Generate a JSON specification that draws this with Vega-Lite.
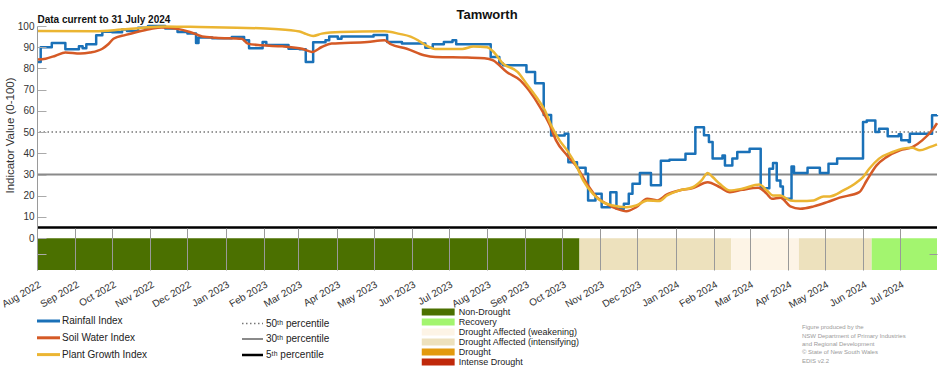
{
  "$schema": "https://vega.github.io/schema/vega-lite/v6.json",
  "width": 900,
  "height": 244,
  "autosize": {"type": "none"},
  "padding": {"left": 37, "top": 26, "right": 15, "bottom": 100},
  "background": "white",
  "title": {"text": "Tamworth", "anchor": "middle", "frame": "group", "font": "Liberation Sans", "fontSize": 13, "fontWeight": "bold", "color": "#111111", "offset": -8},
  "config": {
    "view": {"stroke": null},
    "font": "Liberation Sans",
    "axis": {"grid": false, "labelFont": "Liberation Sans", "labelColor": "#333333", "labelFontSize": 10, "titleFont": "Liberation Sans", "titleColor": "#333333", "titleFontWeight": "normal"},
    "legend": {"labelFont": "Liberation Sans", "labelColor": "#222222", "padding": 0, "offset": 0, "titlePadding": 0, "labelLimit": 400}
  },
  "datasets": {
    "band": [
      {"start": "2022-08-01", "end": "2023-10-15", "category": "Non-Drought"},
      {"start": "2023-10-15", "end": "2024-02-15", "category": "Drought Affected (intensifying)"},
      {"start": "2024-02-15", "end": "2024-04-10", "category": "Drought Affected (weakening)"},
      {"start": "2024-04-10", "end": "2024-06-08", "category": "Drought Affected (intensifying)"},
      {"start": "2024-06-08", "end": "2024-07-31", "category": "Recovery"}
    ],
    "pct": [
      {"pct": "50ᵗʰ percentile", "value": 50},
      {"pct": "30ᵗʰ percentile", "value": 30},
      {"pct": "5ᵗʰ percentile", "value": 5}
    ],
    "credits": [
      {"credit": "Figure produced by the"},
      {"credit": "NSW Department of Primary Industries"},
      {"credit": "and Regional Development"},
      {"credit": "© State of New South Wales"},
      {"credit": "EDIS v2.2"}
    ],
    "idx": [
      {"date": "2022-08-01", "series": "Rainfall Index", "value": 83},
      {"date": "2022-08-04", "series": "Rainfall Index", "value": 90},
      {"date": "2022-08-13", "series": "Rainfall Index", "value": 92},
      {"date": "2022-08-24", "series": "Rainfall Index", "value": 89},
      {"date": "2022-09-04", "series": "Rainfall Index", "value": 90.5},
      {"date": "2022-09-07", "series": "Rainfall Index", "value": 89.5},
      {"date": "2022-09-10", "series": "Rainfall Index", "value": 91.4},
      {"date": "2022-09-18", "series": "Rainfall Index", "value": 95.6},
      {"date": "2022-09-23", "series": "Rainfall Index", "value": 97.3},
      {"date": "2022-10-01", "series": "Rainfall Index", "value": 97},
      {"date": "2022-10-09", "series": "Rainfall Index", "value": 98.3},
      {"date": "2022-10-13", "series": "Rainfall Index", "value": 97.7},
      {"date": "2022-10-22", "series": "Rainfall Index", "value": 99.2},
      {"date": "2022-10-30", "series": "Rainfall Index", "value": 100},
      {"date": "2022-11-13", "series": "Rainfall Index", "value": 98.8},
      {"date": "2022-11-23", "series": "Rainfall Index", "value": 97.2},
      {"date": "2022-12-01", "series": "Rainfall Index", "value": 96.5},
      {"date": "2022-12-08", "series": "Rainfall Index", "value": 92},
      {"date": "2022-12-10", "series": "Rainfall Index", "value": 94.6},
      {"date": "2022-12-21", "series": "Rainfall Index", "value": 94.2},
      {"date": "2023-01-06", "series": "Rainfall Index", "value": 94.8},
      {"date": "2023-01-16", "series": "Rainfall Index", "value": 93.3},
      {"date": "2023-01-20", "series": "Rainfall Index", "value": 89.5},
      {"date": "2023-01-31", "series": "Rainfall Index", "value": 92.5},
      {"date": "2023-02-03", "series": "Rainfall Index", "value": 91},
      {"date": "2023-02-21", "series": "Rainfall Index", "value": 89.3},
      {"date": "2023-03-02", "series": "Rainfall Index", "value": 89},
      {"date": "2023-03-07", "series": "Rainfall Index", "value": 83},
      {"date": "2023-03-13", "series": "Rainfall Index", "value": 92.3},
      {"date": "2023-03-23", "series": "Rainfall Index", "value": 93.3},
      {"date": "2023-03-26", "series": "Rainfall Index", "value": 95},
      {"date": "2023-04-02", "series": "Rainfall Index", "value": 94},
      {"date": "2023-04-05", "series": "Rainfall Index", "value": 95.1},
      {"date": "2023-05-01", "series": "Rainfall Index", "value": 95.8},
      {"date": "2023-05-12", "series": "Rainfall Index", "value": 92.5},
      {"date": "2023-05-24", "series": "Rainfall Index", "value": 91.7},
      {"date": "2023-06-12", "series": "Rainfall Index", "value": 89.8},
      {"date": "2023-06-18", "series": "Rainfall Index", "value": 91.4},
      {"date": "2023-06-27", "series": "Rainfall Index", "value": 92.5},
      {"date": "2023-07-04", "series": "Rainfall Index", "value": 93.3},
      {"date": "2023-07-07", "series": "Rainfall Index", "value": 91.4},
      {"date": "2023-08-04", "series": "Rainfall Index", "value": 85.4},
      {"date": "2023-08-11", "series": "Rainfall Index", "value": 82.3},
      {"date": "2023-08-14", "series": "Rainfall Index", "value": 81.5},
      {"date": "2023-09-02", "series": "Rainfall Index", "value": 78.3},
      {"date": "2023-09-09", "series": "Rainfall Index", "value": 73},
      {"date": "2023-09-16", "series": "Rainfall Index", "value": 58},
      {"date": "2023-09-22", "series": "Rainfall Index", "value": 48.4},
      {"date": "2023-10-03", "series": "Rainfall Index", "value": 49.2},
      {"date": "2023-10-06", "series": "Rainfall Index", "value": 35.8},
      {"date": "2023-10-13", "series": "Rainfall Index", "value": 33.2},
      {"date": "2023-10-20", "series": "Rainfall Index", "value": 30.4},
      {"date": "2023-10-22", "series": "Rainfall Index", "value": 17.8},
      {"date": "2023-10-28", "series": "Rainfall Index", "value": 20.9},
      {"date": "2023-11-02", "series": "Rainfall Index", "value": 14.6},
      {"date": "2023-11-09", "series": "Rainfall Index", "value": 21.7},
      {"date": "2023-11-14", "series": "Rainfall Index", "value": 13.9},
      {"date": "2023-11-20", "series": "Rainfall Index", "value": 16.2},
      {"date": "2023-11-24", "series": "Rainfall Index", "value": 20.9},
      {"date": "2023-11-27", "series": "Rainfall Index", "value": 25.7},
      {"date": "2023-12-03", "series": "Rainfall Index", "value": 30.7},
      {"date": "2023-12-12", "series": "Rainfall Index", "value": 24.9},
      {"date": "2023-12-20", "series": "Rainfall Index", "value": 36.5},
      {"date": "2023-12-27", "series": "Rainfall Index", "value": 37},
      {"date": "2024-01-09", "series": "Rainfall Index", "value": 39.8},
      {"date": "2024-01-17", "series": "Rainfall Index", "value": 52.3},
      {"date": "2024-01-24", "series": "Rainfall Index", "value": 48.5},
      {"date": "2024-01-28", "series": "Rainfall Index", "value": 45.3},
      {"date": "2024-01-31", "series": "Rainfall Index", "value": 37.5},
      {"date": "2024-02-08", "series": "Rainfall Index", "value": 39},
      {"date": "2024-02-10", "series": "Rainfall Index", "value": 34.3},
      {"date": "2024-02-16", "series": "Rainfall Index", "value": 37.5},
      {"date": "2024-02-20", "series": "Rainfall Index", "value": 40.6},
      {"date": "2024-03-01", "series": "Rainfall Index", "value": 42.2},
      {"date": "2024-03-10", "series": "Rainfall Index", "value": 23.5},
      {"date": "2024-03-17", "series": "Rainfall Index", "value": 32.7},
      {"date": "2024-03-20", "series": "Rainfall Index", "value": 35.4},
      {"date": "2024-03-23", "series": "Rainfall Index", "value": 27.2},
      {"date": "2024-03-26", "series": "Rainfall Index", "value": 24.4},
      {"date": "2024-03-28", "series": "Rainfall Index", "value": 18.6},
      {"date": "2024-04-04", "series": "Rainfall Index", "value": 33.8},
      {"date": "2024-04-06", "series": "Rainfall Index", "value": 30.7},
      {"date": "2024-04-17", "series": "Rainfall Index", "value": 33.2},
      {"date": "2024-04-27", "series": "Rainfall Index", "value": 30.7},
      {"date": "2024-05-04", "series": "Rainfall Index", "value": 35.1},
      {"date": "2024-05-11", "series": "Rainfall Index", "value": 37.5},
      {"date": "2024-06-01", "series": "Rainfall Index", "value": 54.7},
      {"date": "2024-06-04", "series": "Rainfall Index", "value": 55.5},
      {"date": "2024-06-11", "series": "Rainfall Index", "value": 50},
      {"date": "2024-06-14", "series": "Rainfall Index", "value": 51.6},
      {"date": "2024-06-21", "series": "Rainfall Index", "value": 48},
      {"date": "2024-06-30", "series": "Rainfall Index", "value": 49},
      {"date": "2024-07-02", "series": "Rainfall Index", "value": 46.1},
      {"date": "2024-07-08", "series": "Rainfall Index", "value": 45.3},
      {"date": "2024-07-09", "series": "Rainfall Index", "value": 49.2},
      {"date": "2024-07-27", "series": "Rainfall Index", "value": 57.9},
      {"date": "2024-07-31", "series": "Rainfall Index", "value": 58},
      {"date": "2022-08-01", "series": "Soil Water Index", "value": 84.2},
      {"date": "2022-08-08", "series": "Soil Water Index", "value": 84.6},
      {"date": "2022-08-16", "series": "Soil Water Index", "value": 86},
      {"date": "2022-08-24", "series": "Soil Water Index", "value": 87.5},
      {"date": "2022-09-05", "series": "Soil Water Index", "value": 87},
      {"date": "2022-09-13", "series": "Soil Water Index", "value": 87.5},
      {"date": "2022-09-23", "series": "Soil Water Index", "value": 89.3},
      {"date": "2022-09-28", "series": "Soil Water Index", "value": 91.5},
      {"date": "2022-10-02", "series": "Soil Water Index", "value": 94},
      {"date": "2022-10-12", "series": "Soil Water Index", "value": 95.8},
      {"date": "2022-10-21", "series": "Soil Water Index", "value": 97.2},
      {"date": "2022-11-01", "series": "Soil Water Index", "value": 98.6},
      {"date": "2022-11-10", "series": "Soil Water Index", "value": 99.3},
      {"date": "2022-11-21", "series": "Soil Water Index", "value": 98.8},
      {"date": "2022-12-03", "series": "Soil Water Index", "value": 97.2},
      {"date": "2022-12-13", "series": "Soil Water Index", "value": 95.1},
      {"date": "2022-12-24", "series": "Soil Water Index", "value": 94.5},
      {"date": "2023-01-14", "series": "Soil Water Index", "value": 94},
      {"date": "2023-01-19", "series": "Soil Water Index", "value": 91.7},
      {"date": "2023-01-30", "series": "Soil Water Index", "value": 90.9},
      {"date": "2023-02-16", "series": "Soil Water Index", "value": 90.4},
      {"date": "2023-03-04", "series": "Soil Water Index", "value": 89.3},
      {"date": "2023-03-12", "series": "Soil Water Index", "value": 87.8},
      {"date": "2023-03-20", "series": "Soil Water Index", "value": 90.1},
      {"date": "2023-03-28", "series": "Soil Water Index", "value": 91.7},
      {"date": "2023-04-26", "series": "Soil Water Index", "value": 92.5},
      {"date": "2023-05-10", "series": "Soil Water Index", "value": 93.3},
      {"date": "2023-05-15", "series": "Soil Water Index", "value": 91.4},
      {"date": "2023-05-28", "series": "Soil Water Index", "value": 89.3},
      {"date": "2023-06-11", "series": "Soil Water Index", "value": 86.2},
      {"date": "2023-06-20", "series": "Soil Water Index", "value": 85.4},
      {"date": "2023-07-16", "series": "Soil Water Index", "value": 85.1},
      {"date": "2023-07-30", "series": "Soil Water Index", "value": 84.8},
      {"date": "2023-08-06", "series": "Soil Water Index", "value": 83.8},
      {"date": "2023-08-17", "series": "Soil Water Index", "value": 78.3},
      {"date": "2023-08-28", "series": "Soil Water Index", "value": 74.4},
      {"date": "2023-09-04", "series": "Soil Water Index", "value": 69.7},
      {"date": "2023-09-13", "series": "Soil Water Index", "value": 61.8},
      {"date": "2023-09-21", "series": "Soil Water Index", "value": 53.2},
      {"date": "2023-09-26", "series": "Soil Water Index", "value": 46.1},
      {"date": "2023-10-05", "series": "Soil Water Index", "value": 39},
      {"date": "2023-10-13", "series": "Soil Water Index", "value": 33.5},
      {"date": "2023-10-21", "series": "Soil Water Index", "value": 25.7},
      {"date": "2023-10-29", "series": "Soil Water Index", "value": 19.3},
      {"date": "2023-11-06", "series": "Soil Water Index", "value": 16.2},
      {"date": "2023-11-14", "series": "Soil Water Index", "value": 13.9},
      {"date": "2023-11-22", "series": "Soil Water Index", "value": 12.7},
      {"date": "2023-11-30", "series": "Soil Water Index", "value": 14.6},
      {"date": "2023-12-09", "series": "Soil Water Index", "value": 18.6},
      {"date": "2023-12-17", "series": "Soil Water Index", "value": 17.8},
      {"date": "2023-12-25", "series": "Soil Water Index", "value": 20.6},
      {"date": "2024-01-04", "series": "Soil Water Index", "value": 22.5},
      {"date": "2024-01-15", "series": "Soil Water Index", "value": 23.6},
      {"date": "2024-01-27", "series": "Soil Water Index", "value": 26.4},
      {"date": "2024-02-06", "series": "Soil Water Index", "value": 24},
      {"date": "2024-02-14", "series": "Soil Water Index", "value": 21.7},
      {"date": "2024-02-24", "series": "Soil Water Index", "value": 22.8},
      {"date": "2024-03-08", "series": "Soil Water Index", "value": 23.8},
      {"date": "2024-03-15", "series": "Soil Water Index", "value": 20.9},
      {"date": "2024-03-19", "series": "Soil Water Index", "value": 18.6},
      {"date": "2024-03-26", "series": "Soil Water Index", "value": 19.1},
      {"date": "2024-04-03", "series": "Soil Water Index", "value": 15},
      {"date": "2024-04-11", "series": "Soil Water Index", "value": 13.9},
      {"date": "2024-04-22", "series": "Soil Water Index", "value": 15},
      {"date": "2024-05-03", "series": "Soil Water Index", "value": 17},
      {"date": "2024-05-13", "series": "Soil Water Index", "value": 19.1},
      {"date": "2024-05-29", "series": "Soil Water Index", "value": 21.7},
      {"date": "2024-06-04", "series": "Soil Water Index", "value": 27.2},
      {"date": "2024-06-12", "series": "Soil Water Index", "value": 34.3},
      {"date": "2024-06-20", "series": "Soil Water Index", "value": 38.2},
      {"date": "2024-07-01", "series": "Soil Water Index", "value": 41.4},
      {"date": "2024-07-11", "series": "Soil Water Index", "value": 42.9},
      {"date": "2024-07-19", "series": "Soil Water Index", "value": 46.1},
      {"date": "2024-07-28", "series": "Soil Water Index", "value": 51.6},
      {"date": "2024-07-31", "series": "Soil Water Index", "value": 54.2},
      {"date": "2022-08-01", "series": "Plant Growth Index", "value": 97.6},
      {"date": "2022-09-17", "series": "Plant Growth Index", "value": 97.5},
      {"date": "2022-10-08", "series": "Plant Growth Index", "value": 98.3},
      {"date": "2022-10-26", "series": "Plant Growth Index", "value": 99.2},
      {"date": "2022-11-13", "series": "Plant Growth Index", "value": 99.8},
      {"date": "2022-12-03", "series": "Plant Growth Index", "value": 99.6},
      {"date": "2023-01-10", "series": "Plant Growth Index", "value": 99.2},
      {"date": "2023-02-10", "series": "Plant Growth Index", "value": 98.6},
      {"date": "2023-03-02", "series": "Plant Growth Index", "value": 97.4},
      {"date": "2023-03-07", "series": "Plant Growth Index", "value": 96.3},
      {"date": "2023-03-13", "series": "Plant Growth Index", "value": 95.3},
      {"date": "2023-03-20", "series": "Plant Growth Index", "value": 96.4},
      {"date": "2023-04-04", "series": "Plant Growth Index", "value": 97.2},
      {"date": "2023-05-10", "series": "Plant Growth Index", "value": 97.5},
      {"date": "2023-05-22", "series": "Plant Growth Index", "value": 96.3},
      {"date": "2023-05-31", "series": "Plant Growth Index", "value": 95},
      {"date": "2023-06-06", "series": "Plant Growth Index", "value": 93.3},
      {"date": "2023-06-12", "series": "Plant Growth Index", "value": 91},
      {"date": "2023-06-20", "series": "Plant Growth Index", "value": 89.2},
      {"date": "2023-07-12", "series": "Plant Growth Index", "value": 89.2},
      {"date": "2023-07-21", "series": "Plant Growth Index", "value": 90.3},
      {"date": "2023-08-01", "series": "Plant Growth Index", "value": 90},
      {"date": "2023-08-06", "series": "Plant Growth Index", "value": 88},
      {"date": "2023-08-14", "series": "Plant Growth Index", "value": 82.3},
      {"date": "2023-08-26", "series": "Plant Growth Index", "value": 78.3},
      {"date": "2023-09-02", "series": "Plant Growth Index", "value": 72.8},
      {"date": "2023-09-10", "series": "Plant Growth Index", "value": 66.5},
      {"date": "2023-09-17", "series": "Plant Growth Index", "value": 60.2},
      {"date": "2023-09-22", "series": "Plant Growth Index", "value": 53.2},
      {"date": "2023-09-29", "series": "Plant Growth Index", "value": 46},
      {"date": "2023-10-05", "series": "Plant Growth Index", "value": 41.4},
      {"date": "2023-10-13", "series": "Plant Growth Index", "value": 33.5},
      {"date": "2023-10-18", "series": "Plant Growth Index", "value": 27.2},
      {"date": "2023-10-26", "series": "Plant Growth Index", "value": 20.9},
      {"date": "2023-11-03", "series": "Plant Growth Index", "value": 17},
      {"date": "2023-11-11", "series": "Plant Growth Index", "value": 15.4},
      {"date": "2023-11-22", "series": "Plant Growth Index", "value": 14.6},
      {"date": "2023-11-30", "series": "Plant Growth Index", "value": 15.4},
      {"date": "2023-12-09", "series": "Plant Growth Index", "value": 17.8},
      {"date": "2023-12-19", "series": "Plant Growth Index", "value": 17.5},
      {"date": "2023-12-25", "series": "Plant Growth Index", "value": 20.1},
      {"date": "2024-01-04", "series": "Plant Growth Index", "value": 22.5},
      {"date": "2024-01-15", "series": "Plant Growth Index", "value": 24},
      {"date": "2024-01-22", "series": "Plant Growth Index", "value": 27.2},
      {"date": "2024-01-27", "series": "Plant Growth Index", "value": 30.7},
      {"date": "2024-01-31", "series": "Plant Growth Index", "value": 28.8},
      {"date": "2024-02-06", "series": "Plant Growth Index", "value": 25.5},
      {"date": "2024-02-14", "series": "Plant Growth Index", "value": 22.5},
      {"date": "2024-02-24", "series": "Plant Growth Index", "value": 23.3},
      {"date": "2024-03-09", "series": "Plant Growth Index", "value": 25.3},
      {"date": "2024-03-15", "series": "Plant Growth Index", "value": 22.5},
      {"date": "2024-03-20", "series": "Plant Growth Index", "value": 20.1},
      {"date": "2024-03-26", "series": "Plant Growth Index", "value": 20.1},
      {"date": "2024-04-03", "series": "Plant Growth Index", "value": 17.8},
      {"date": "2024-04-11", "series": "Plant Growth Index", "value": 17.5},
      {"date": "2024-04-22", "series": "Plant Growth Index", "value": 17.8},
      {"date": "2024-04-30", "series": "Plant Growth Index", "value": 19.7},
      {"date": "2024-05-05", "series": "Plant Growth Index", "value": 19.7},
      {"date": "2024-05-16", "series": "Plant Growth Index", "value": 22.5},
      {"date": "2024-05-27", "series": "Plant Growth Index", "value": 26.4},
      {"date": "2024-06-01", "series": "Plant Growth Index", "value": 28.8},
      {"date": "2024-06-06", "series": "Plant Growth Index", "value": 32.7},
      {"date": "2024-06-14", "series": "Plant Growth Index", "value": 37.5},
      {"date": "2024-06-25", "series": "Plant Growth Index", "value": 40.6},
      {"date": "2024-07-03", "series": "Plant Growth Index", "value": 42.2},
      {"date": "2024-07-11", "series": "Plant Growth Index", "value": 42.6},
      {"date": "2024-07-17", "series": "Plant Growth Index", "value": 41.4},
      {"date": "2024-07-25", "series": "Plant Growth Index", "value": 42.9},
      {"date": "2024-07-31", "series": "Plant Growth Index", "value": 44.2}
    ]
  },
  "layer": [
    {
      "data": {"name": "band"},
      "mark": {"type": "rect"},
      "encoding": {
        "x": {
          "field": "start", "type": "temporal",
          "scale": {"domain": [{"year": 2022, "month": 8, "date": 1}, {"year": 2024, "month": 7, "date": 31}]},
          "axis": {"orient": "bottom", "format": "%b %Y", "tickCount": {"interval": "month", "step": 1}, "labelAngle": -30, "labelAlign": "right", "labelBaseline": "top", "labelOverlap": false, "labelFlush": false, "labelBound": false, "labelFontSize": 10, "labelPadding": 51, "tickSize": -42, "tickColor": "#999999", "tickWidth": 1, "domain": false, "title": null, "zindex": 1}
        },
        "x2": {"field": "end"},
        "y": {
          "datum": -15, "type": "quantitative",
          "scale": {"domain": [-15, 100], "nice": false, "zero": false},
          "axis": {"orient": "right", "values": [-7.5], "labels": false, "domain": false, "tickSize": -8, "tickColor": "#999999", "title": "Data current to 31 July 2024", "titleAngle": 0, "titleX": -900, "titleY": -4, "titleAlign": "left", "titleBaseline": "alphabetic", "titleFontSize": 10, "titleFontWeight": "bold", "titleColor": "#111111", "zindex": 1}
        },
        "y2": {"datum": 0},
        "fill": {
          "field": "category", "type": "nominal",
          "scale": {"domain": ["Non-Drought", "Recovery", "Drought Affected (weakening)", "Drought Affected (intensifying)", "Drought", "Intense Drought"], "range": ["#4b7000", "#a3f56f", "#fdf4e6", "#ede1bd", "#e39a0e", "#c0280a"]},
          "legend": {"orient": "none", "legendX": 396.7, "legendY": 281.5, "title": null, "symbolType": "M-4.7,-1H4.7V1H-4.7Z", "symbolSize": 49, "symbolStrokeWidth": 0, "labelFontSize": 9, "labelOffset": 16, "rowPadding": -1}
        }
      }
    },
    {
      "data": {"name": "pct"},
      "mark": {"type": "rule"},
      "encoding": {
        "y": {"field": "value", "type": "quantitative", "scale": {"domain": [-15, 100], "nice": false, "zero": false}, "axis": null},
        "stroke": {"field": "pct", "type": "nominal", "scale": {"domain": ["50ᵗʰ percentile", "30ᵗʰ percentile", "5ᵗʰ percentile"], "range": ["#777777", "#8a8a8a", "#000000"]},
          "legend": {"orient": "none", "legendX": 209, "legendY": 291.5, "title": null, "symbolType": "M-2.1,0H2.1", "symbolSize": 100, "labelFontSize": 10, "labelOffset": 7, "rowPadding": 4.5}},
        "strokeDash": {"field": "pct", "type": "nominal", "scale": {"domain": ["50ᵗʰ percentile", "30ᵗʰ percentile", "5ᵗʰ percentile"], "range": [[1.5, 2.5], [1, 0], [1, 0]]},
          "legend": {"orient": "none", "legendX": 209, "legendY": 291.5, "title": null, "symbolType": "M-2.1,0H2.1", "symbolSize": 100, "labelFontSize": 10, "labelOffset": 7, "rowPadding": 4.5}},
        "strokeWidth": {"field": "pct", "type": "ordinal", "scale": {"domain": ["50ᵗʰ percentile", "30ᵗʰ percentile", "5ᵗʰ percentile"], "range": [1.5, 2.5, 3]},
          "legend": {"orient": "none", "legendX": 209, "legendY": 291.5, "title": null, "symbolType": "M-2.1,0H2.1", "symbolSize": 100, "labelFontSize": 10, "labelOffset": 7, "rowPadding": 4.5}}
      }
    },
    {
      "data": {"name": "idx"},
      "transform": [{"filter": "datum.series === 'Rainfall Index'"}],
      "mark": {"type": "line", "interpolate": "step-after", "strokeWidth": 2.5, "strokeJoin": "round"},
      "encoding": {
        "x": {"field": "date", "type": "temporal", "scale": {"domain": [{"year": 2022, "month": 8, "date": 1}, {"year": 2024, "month": 7, "date": 31}]}, "axis": null},
        "y": {"field": "value", "type": "quantitative", "scale": {"domain": [-15, 100], "nice": false, "zero": false},
          "axis": {"orient": "left", "values": [-7.5, 0, 10, 20, 30, 40, 50, 60, 70, 80, 90, 100], "labelExpr": "datum.value < 0 ? '' : datum.label", "domainColor": "#9a9a9a", "domainWidth": 1, "tickColor": "#aaaaaa", "tickSize": -9, "tickWidth": 1, "labelPadding": 12, "labelFontSize": 10, "title": "Indicator Value (0-100)", "titleFontSize": 11.5, "titleX": -27, "titleY": 109, "titleAlign": "center", "titleBaseline": "middle", "zindex": 1}},
        "color": {"field": "series", "type": "nominal",
          "scale": {"domain": ["Rainfall Index", "Soil Water Index", "Plant Growth Index"], "range": ["#1a71b8", "#d55a26", "#ebb532"]},
          "legend": {"orient": "none", "legendX": 5, "legendY": 288.5, "title": null, "symbolType": "M-2.3,0H2.3", "symbolSize": 100, "symbolStrokeWidth": 3, "labelFontSize": 10, "labelOffset": 7, "rowPadding": 3.8}}
      }
    },
    {
      "data": {"name": "idx"},
      "transform": [{"filter": "datum.series !== 'Rainfall Index'"}],
      "mark": {"type": "line", "interpolate": "monotone", "strokeWidth": 2.5, "strokeJoin": "round"},
      "encoding": {
        "x": {"field": "date", "type": "temporal", "scale": {"domain": [{"year": 2022, "month": 8, "date": 1}, {"year": 2024, "month": 7, "date": 31}]}, "axis": null},
        "y": {"field": "value", "type": "quantitative", "scale": {"domain": [-15, 100], "nice": false, "zero": false}, "axis": null},
        "color": {"field": "series", "type": "nominal",
          "scale": {"domain": ["Rainfall Index", "Soil Water Index", "Plant Growth Index"], "range": ["#1a71b8", "#d55a26", "#ebb532"]},
          "legend": {"orient": "none", "legendX": 5, "legendY": 288.5, "title": null, "symbolType": "M-2.3,0H2.3", "symbolSize": 100, "symbolStrokeWidth": 3, "labelFontSize": 10, "labelOffset": 7, "rowPadding": 3.8}}
      }
    },
    {
      "data": {"name": "credits"},
      "mark": {"type": "point", "opacity": 0},
      "encoding": {
        "shape": {"field": "credit", "type": "nominal",
          "scale": {"domain": ["Figure produced by the", "NSW Department of Primary Industries", "and Regional Development", "© State of New South Wales", "EDIS v2.2"]},
          "legend": {"orient": "none", "legendX": 759, "legendY": 298.3, "title": null, "symbolSize": 1, "symbolOpacity": 0, "symbolStrokeWidth": 0, "labelFontSize": 6, "labelColor": "#9a9a9a", "labelOffset": 0, "rowPadding": 2.3}}
      }
    }
  ],
  "resolve": {"axis": {"x": "independent", "y": "independent"}}
}
